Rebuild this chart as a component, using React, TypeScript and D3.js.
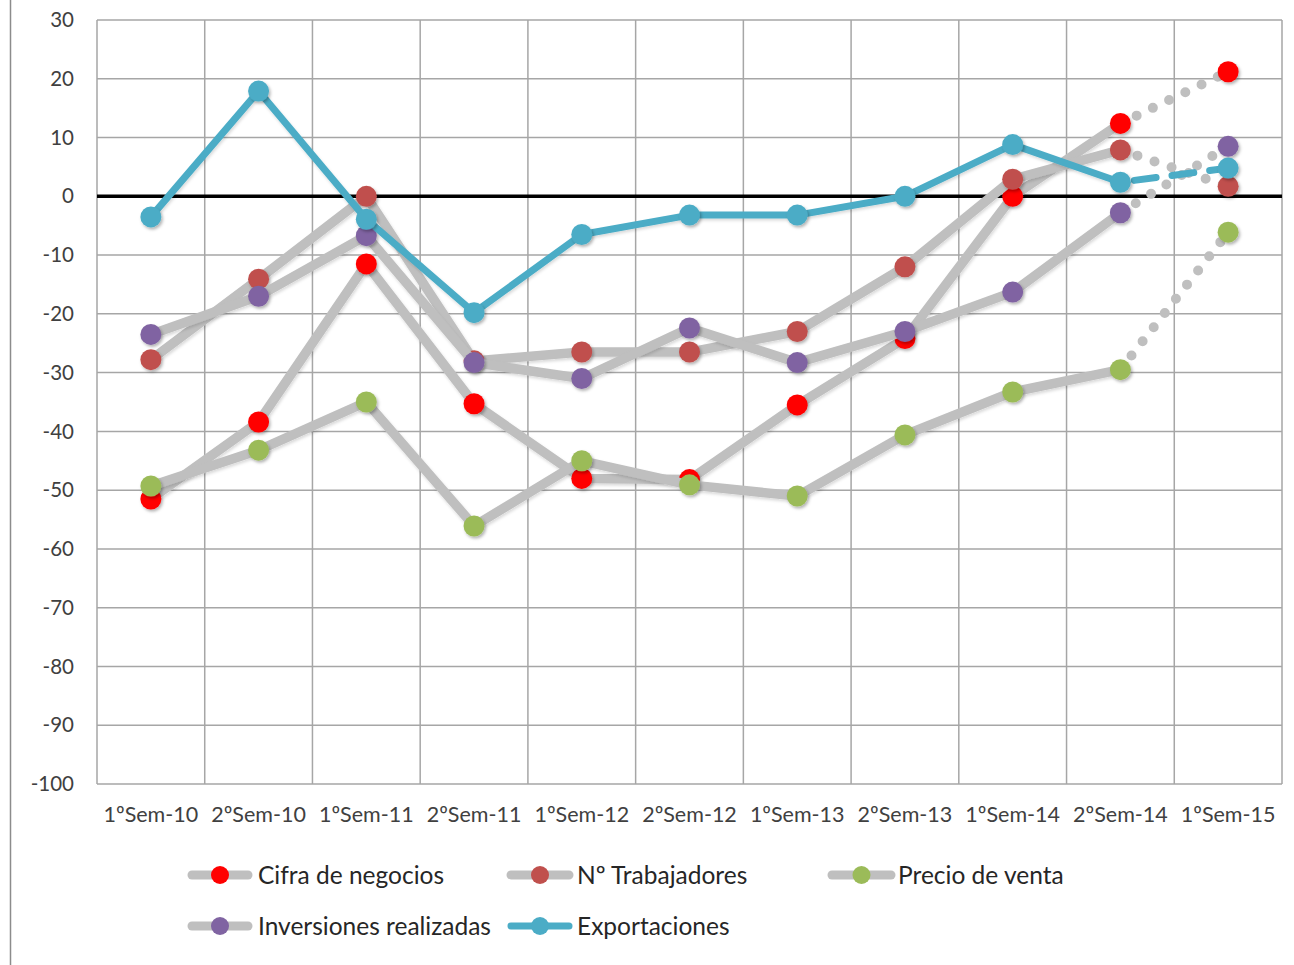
import * as d3 from 'd3';

const categories = [
  '1ºSem-10', '2ºSem-10', '1ºSem-11', '2ºSem-11', '1ºSem-12', '2ºSem-12',
  '1ºSem-13', '2ºSem-13', '1ºSem-14', '2ºSem-14', '1ºSem-15',
];

const cifraNegocios = [-51.5, -38.4, -11.5, -35.3, -48, -48.2, -35.5, -24.2, 0, 12.4, 21.2];
const trabajadores = [-27.8, -14.1, 0, -28, -26.5, -26.5, -23, -12, 2.9, 7.9, 1.7];
const precioVenta = [-49.3, -43.2, -35, -56.1, -45, -49.1, -51, -40.6, -33.3, -29.5, -6.1];
const inversiones = [-23.5, -17, -6.7, -28.3, -31, -22.4, -28.3, -23, -16.3, -2.8, 8.5];
const exportaciones = [-3.5, 17.9, -3.9, -19.8, -6.5, -3.2, -3.2, 0, 8.8, 2.4, 4.8];

const yTicks = [30, 20, 10, 0, -10, -20, -30, -40, -50, -60, -70, -80, -90, -100];

const series = [
  { name: 'Cifra de negocios', values: cifraNegocios, line: '#bfbfbf', marker: '#ff0000' },
  { name: 'Nº Trabajadores', values: trabajadores, line: '#bfbfbf', marker: '#c0504d' },
  { name: 'Precio de venta', values: precioVenta, line: '#bfbfbf', marker: '#9bbb59' },
  { name: 'Inversiones realizadas', values: inversiones, line: '#bfbfbf', marker: '#8064a2' },
  { name: 'Exportaciones', values: exportaciones, line: '#4bacc6', marker: '#4bacc6' },
];

const W = 1294;
const H = 965;
const plot = { left: 97, right: 1282, top: 20, bottom: 784 };
const FONT = 'Lato, "Open Sans", sans-serif';

// legend slots: [lineStart, lineEnd, textX, y]
const legendPos = [
  [188, 252, 258, 875],
  [507, 573, 577, 875],
  [828, 895, 898, 875],
  [188, 252, 258, 926],
  [507, 573, 577, 926],
];

export default function App() {
  const x = d3.scaleBand<string>().domain(categories).range([plot.left, plot.right]).padding(0);
  const y = d3.scaleLinear().domain([-100, 30]).range([plot.bottom, plot.top]);
  const cx = (i: number) => (x(categories[i]) as number) + x.bandwidth() / 2;

  const line = d3.line<number>().x((_, i) => cx(i)).y(d => y(d));
  const lastLine = d3.line<number>().x((_, i) => cx(i + categories.length - 2)).y(d => y(d));

  const n = categories.length;

  return (
    <svg width={W} height={H} style={{ position: 'absolute', left: 0, top: 0, background: '#fff' }}>
      <defs>
        <filter id="sh" x="-50%" y="-50%" width="200%" height="200%">
          <feDropShadow dx="1.5" dy="2" stdDeviation="1.5" floodColor="#000" floodOpacity="0.3" />
        </filter>
        <filter id="shl" x="-10%" y="-10%" width="120%" height="120%">
          <feDropShadow dx="1" dy="2" stdDeviation="1.5" floodColor="#000" floodOpacity="0.15" />
        </filter>
      </defs>

      {/* chart area border (left edge visible) */}
      <line x1={10.5} x2={10.5} y1={0} y2={H} stroke="#8c8c8c" strokeWidth={1.5} />

      {/* horizontal grid */}
      {yTicks.map(t => (
        <line key={'h' + t} x1={plot.left} x2={plot.right} y1={y(t)} y2={y(t)}
          stroke="#a6a6a6" strokeWidth={1.5} />
      ))}
      {/* vertical grid */}
      {d3.range(n + 1).map(i => {
        const xx = i < n ? (x(categories[i]) as number) : plot.right;
        return <line key={'v' + i} x1={xx} x2={xx} y1={plot.top} y2={plot.bottom}
          stroke="#a6a6a6" strokeWidth={1.5} />;
      })}
      {/* zero line */}
      <line x1={plot.left} x2={plot.right} y1={y(0)} y2={y(0)} stroke="#000" strokeWidth={3.5} />

      {/* y tick labels */}
      {yTicks.map(t => (
        <text key={'yt' + t} x={74} y={y(t)} dy="0.35em" textAnchor="end"
          fontFamily={FONT} fontSize={20.5} fill="#404040">{t}</text>
      ))}
      {/* x labels */}
      {categories.map((c, i) => (
        <text key={c} x={cx(i)} y={822} textAnchor="middle" fontFamily={FONT} fontSize={21.5} fill="#404040">{c}</text>
      ))}

      {/* series */}
      {series.map(s => {
        const isExp = s.name === 'Exportaciones';
        const sw = isExp ? 7 : 9.5;
        return (
          <g key={s.name}>
            <path d={line(s.values.slice(0, n - 1)) as string} fill="none" stroke={s.line}
              strokeWidth={sw} strokeLinejoin="round" strokeLinecap="round" filter="url(#shl)" />
            <path d={lastLine(s.values.slice(n - 2)) as string} fill="none" stroke={s.line}
              strokeWidth={isExp ? 7 : 10} strokeLinecap="round"
              strokeDasharray={isExp ? '22 16' : '0 18'} strokeDashoffset={isExp ? -14 : -18} />
            {s.values.map((v, i) => (
              <circle key={i} cx={cx(i)} cy={y(v)} r={10.5} fill={s.marker} filter="url(#sh)" />
            ))}
          </g>
        );
      })}

      {/* legend */}
      {series.map((s, i) => {
        const [x1, x2, tx, ly] = legendPos[i];
        const isExp = s.name === 'Exportaciones';
        return (
          <g key={'lg' + s.name}>
            <line x1={x1 + 4} x2={x2 - 4} y1={ly} y2={ly} stroke={s.line} strokeWidth={isExp ? 7 : 9} strokeLinecap="round" />
            <circle cx={(x1 + x2) / 2} cy={ly} r={9} fill={s.marker} />
            <text x={tx} y={ly} dy="0.36em" fontFamily={FONT} fontSize={24.5} fill="#262626">{s.name}</text>
          </g>
        );
      })}
    </svg>
  );
}
